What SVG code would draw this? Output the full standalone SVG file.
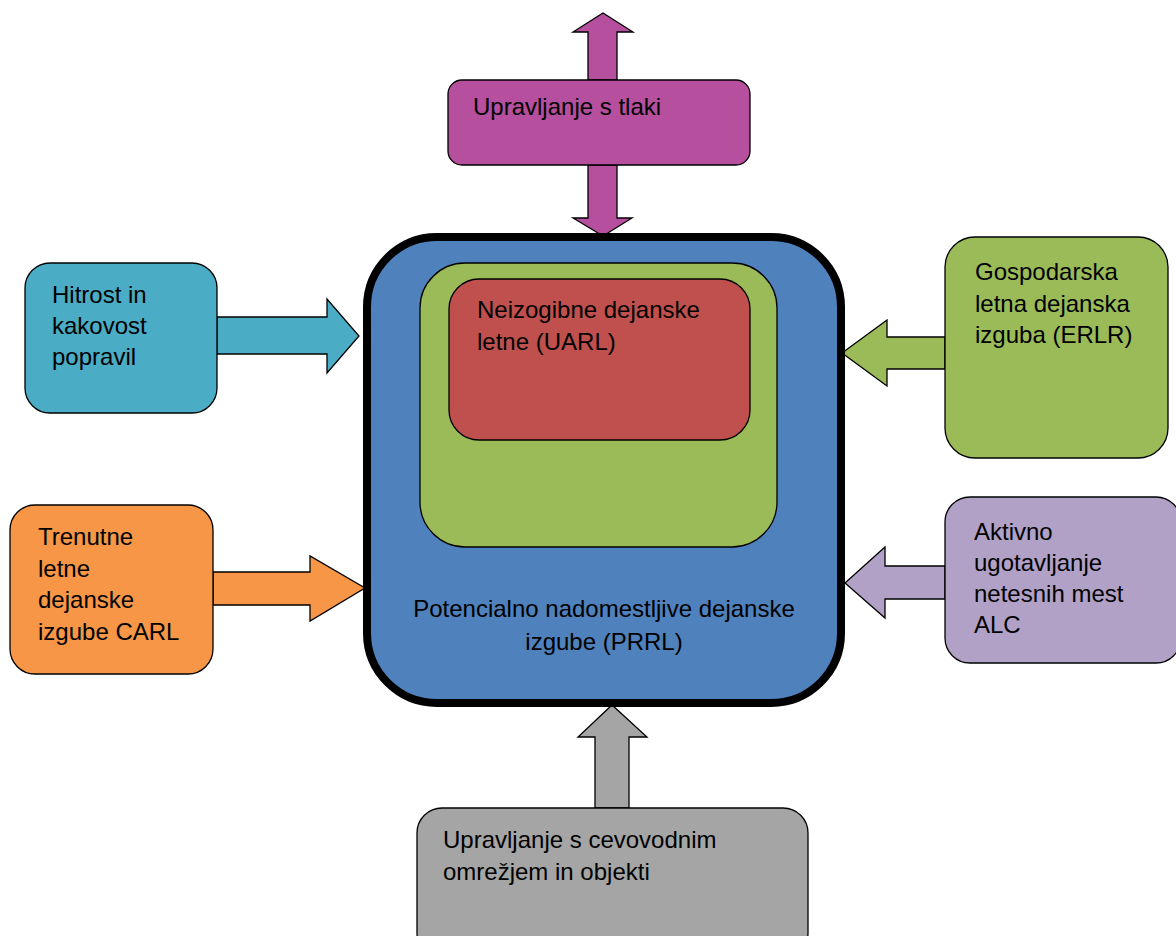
<svg xmlns="http://www.w3.org/2000/svg" width="1176" height="936" viewBox="0 0 1176 936">
  <style>
    .box { stroke: #000; stroke-width: 1.3; }
    .arr { stroke: #000; stroke-width: 1.3; stroke-linejoin: miter; }
    text { font-family: "Liberation Sans", Arial, sans-serif; font-size: 24px; fill: #000; }
    .mid { text-anchor: middle; }
  </style>
  <rect width="1176" height="936" fill="#fff"/>

  <!-- block arrows -->
  <g id="connectors">
    <!-- up out of pressure management -->
    <polygon class="arr" fill="#B54F9E" points="588,80 588,32 573,32 603,13 633,32 617,32 617,80"/>
    <!-- down into the main box -->
    <polygon class="arr" fill="#B54F9E" points="588,165 617,165 617,218 632,218 603,236 573,218 588,218"/>
    <!-- repair speed and quality -->
    <polygon class="arr" fill="#4BACC6" points="217,317 327,317 327,299 359,336 327,373 327,354 217,354"/>
    <!-- CARL -->
    <polygon class="arr" fill="#F79646" points="213,572 310,572 310,556 365,588 310,621 310,605 213,605"/>
    <!-- ERLR -->
    <polygon class="arr" fill="#9BBB59" points="945,337 887,337 887,320 842,353 887,386 887,369 945,369"/>
    <!-- ALC -->
    <polygon class="arr" fill="#B2A1C7" points="945,566 885,566 885,547 845,583 885,618 885,599 945,599"/>
    <!-- pipeline management -->
    <polygon class="arr" fill="#A5A5A5" points="595,808 595,737 578,737 612,705 647,737 629,737 629,808"/>
  </g>

  <g id="prrl">
    <rect x="367" y="237" width="474" height="466" rx="70" fill="#4F81BD" stroke="#000" stroke-width="8"/>
    <text class="mid" x="604" y="617">Potencialno nadomestljive dejanske</text>
    <text class="mid" x="604" y="650">izgube (PRRL)</text>
  </g>

  <g id="erlr-zone">
    <rect class="box" x="420" y="263" width="357" height="284" rx="45" fill="#9BBB59"/>
  </g>

  <g id="uarl">
    <rect class="box" x="449" y="279" width="301" height="161" rx="30" fill="#C0504D"/>
    <text x="477" y="318">Neizogibne dejanske</text>
    <text x="477" y="350">letne (UARL)</text>
  </g>

  <g id="pressure">
    <rect class="box" x="448" y="80" width="302" height="85" rx="14" fill="#B54F9E"/>
    <text x="473" y="115">Upravljanje s tlaki</text>
  </g>

  <g id="repairs">
    <rect class="box" x="25" y="263" width="192" height="150" rx="25" fill="#4BACC6"/>
    <text x="52" y="303">Hitrost in</text>
    <text x="52" y="334">kakovost</text>
    <text x="52" y="365">popravil</text>
  </g>

  <g id="carl">
    <rect class="box" x="10" y="505" width="203" height="169" rx="25" fill="#F79646"/>
    <text x="38" y="545">Trenutne</text>
    <text x="38" y="577">letne</text>
    <text x="38" y="608">dejanske</text>
    <text x="38" y="640">izgube CARL</text>
  </g>

  <g id="erlr">
    <rect class="box" x="945" y="237" width="223" height="221" rx="30" fill="#9BBB59"/>
    <text x="975" y="280">Gospodarska</text>
    <text x="975" y="312">letna dejanska</text>
    <text x="975" y="343">izguba (ERLR)</text>
  </g>

  <g id="alc">
    <rect class="box" x="945" y="497" width="236" height="166" rx="25" fill="#B2A1C7"/>
    <text x="974" y="540">Aktivno</text>
    <text x="974" y="571">ugotavljanje</text>
    <text x="974" y="602">netesnih mest</text>
    <text x="974" y="633">ALC</text>
  </g>

  <g id="pipeline">
    <rect class="box" x="417" y="808" width="391" height="150" rx="25" fill="#A5A5A5"/>
    <text x="443" y="848">Upravljanje s cevovodnim</text>
    <text x="443" y="880">omrežjem in objekti</text>
  </g>
</svg>
